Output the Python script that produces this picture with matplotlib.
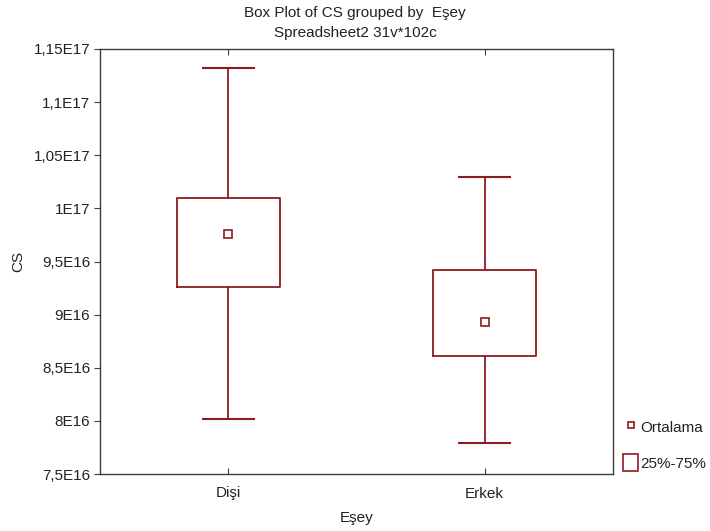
import matplotlib
matplotlib.use("Agg")
import matplotlib.pyplot as plt
from matplotlib.lines import Line2D
from matplotlib.patches import Patch
from matplotlib.ticker import FuncFormatter

plt.rcParams['font.family'] = ['Liberation Sans', 'DejaVu Sans']

# Summary statistics of CS for each group of Eşey
categories = ["Dişi", "Erkek"]
whisker_low = [8.02e16, 7.79e16]
q1 = [9.26e16, 8.61e16]
means = [9.76e16, 8.93e16]
q3 = [1.010e17, 9.42e16]
whisker_high = [1.132e17, 1.030e17]

y_ticks = [7.5e16, 8e16, 8.5e16, 9e16, 9.5e16, 1e17, 1.05e17, 1.1e17, 1.15e17]

RED = "#8e1b1f"
AXC = "#3c3c3c"
TXT = "#222222"
FS = 11

fig = plt.figure(figsize=(7.10, 5.31), dpi=100)
ax = fig.add_axes([100 / 710, 1 - 474 / 531, 513 / 710, 425 / 531])

stats = []
for i, name in enumerate(categories):
    stats.append(dict(label=name, whislo=whisker_low[i], q1=q1[i],
                      med=means[i], q3=q3[i], whishi=whisker_high[i],
                      mean=means[i]))

ax.bxp(stats, positions=[1, 2], widths=0.4, capwidths=0.2,
       showmeans=True, showfliers=False, patch_artist=False,
       boxprops=dict(color=RED, linewidth=1.3),
       whiskerprops=dict(color=RED, linewidth=1.3),
       capprops=dict(color=RED, linewidth=1.5),
       medianprops=dict(visible=False),
       meanprops=dict(marker='s', markersize=6, markerfacecolor='white',
                      markeredgecolor=RED, markeredgewidth=1.2))

ax.set_xlim(0.5, 2.5)
ax.set_ylim(7.5e16, 1.15e17)
ax.set_yticks(y_ticks)


def fmt(v, pos):
    m = v / 1e16
    if m >= 10:
        s = ("%g" % (v / 1e17)).replace('.', ',') + "E17"
    else:
        s = ("%g" % m).replace('.', ',') + "E16"
    return s


ax.yaxis.set_major_formatter(FuncFormatter(fmt))
ax.set_xticks([1, 2])
ax.set_xticklabels(categories)

for sp in ax.spines.values():
    sp.set_color(AXC)
    sp.set_linewidth(1.0)

ax.tick_params(axis='y', direction='out', length=4, color=AXC,
               labelsize=FS, labelcolor=TXT, pad=3)
ax.tick_params(axis='x', direction='in', length=4, color=AXC, top=True,
               labelsize=FS, labelcolor=TXT, pad=9)

ax.set_xlabel("Eşey", fontsize=FS, color=TXT)
ax.set_ylabel("CS", fontsize=FS, color=TXT)
ax.xaxis.set_label_coords(0.5, -(518 - 474) / 425)
ax.yaxis.set_label_coords((18 - 100) / 513, 0.5)
ax.xaxis.label.set_va('center')
ax.yaxis.label.set_va('center')

fig.text(0.5, 1 - 13 / 531, "Box Plot of CS grouped by  Eşey",
         ha='center', va='center', fontsize=FS, color=TXT)
fig.text(0.5, 1 - 33 / 531, "Spreadsheet2 31v*102c",
         ha='center', va='center', fontsize=FS, color=TXT)

handles = [
    Line2D([], [], linestyle='none', marker='s', markersize=5,
           markerfacecolor='white', markeredgecolor=RED, markeredgewidth=1.2),
    Patch(facecolor='white', edgecolor=RED, linewidth=1.2),
]
leg = fig.legend(handles, ["Ortalama", "25%-75%"], loc='upper left',
                 bbox_to_anchor=(623 / 710, 1 - 418 / 531), frameon=False,
                 fontsize=FS, handlelength=1.0, handleheight=1.35,
                 handletextpad=0.15, labelspacing=1.25, borderaxespad=0,
                 borderpad=0)
for t in leg.get_texts():
    t.set_color(TXT)

fig.savefig("out.png", dpi=100)
